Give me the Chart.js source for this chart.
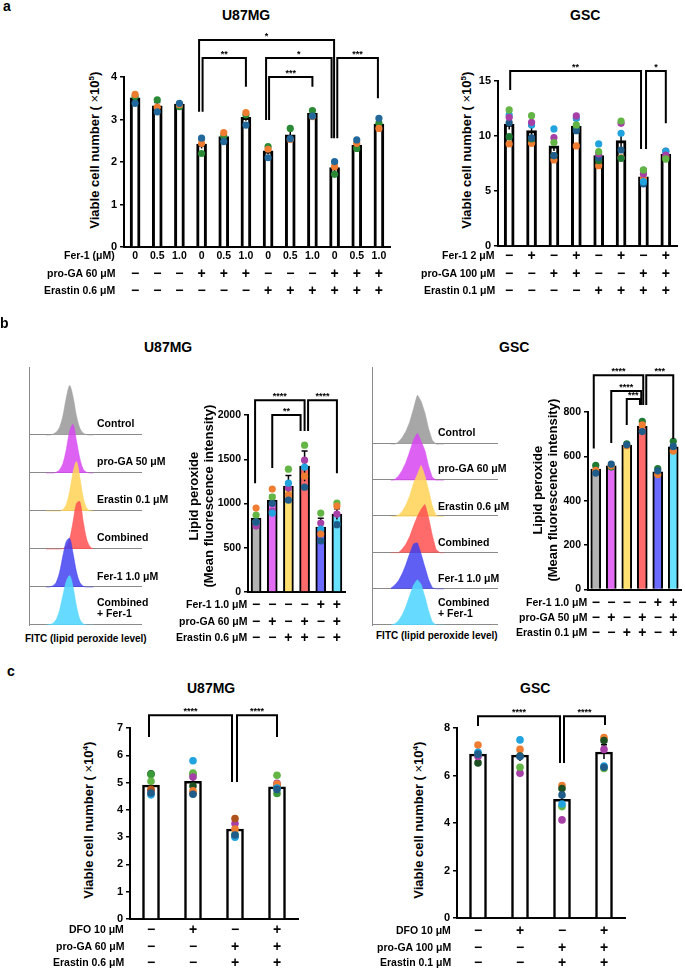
<!DOCTYPE html>
<html><head><meta charset="utf-8">
<script src="https://cdn.jsdelivr.net/npm/chart.js@4.4.1/dist/chart.umd.min.js"></script>
<style>
html,body{margin:0;padding:0;background:#fff;width:685px;height:971px;overflow:hidden}
#root{position:relative;width:685px;height:971px}
canvas{position:absolute}
.t{position:absolute;font-family:"Liberation Sans",Arial,sans-serif;font-weight:bold;color:#000;white-space:nowrap;line-height:1.1}
</style></head><body><div id="root"></div>
<script>
// ---------------- DATA ----------------
// Panel a, U87MG
const aU87Fer1 = ['0','0.5','1.0','0','0.5','1.0','0','0.5','1.0','0','0.5','1.0'];
const aU87ProGA = ['−','−','−','+','+','+','−','−','−','+','+','+'];
const aU87Erastin = ['−','−','−','−','−','−','+','+','+','+','+','+'];
const aU87Mean = [3.51,3.32,3.36,2.42,2.60,3.05,2.26,2.64,3.15,1.87,2.40,2.89];
const aU87Sem = [0.06,0.08,0.02,0.10,0.06,0.08,0.08,0.13,0.07,0.09,0.06,0.07];
const aU87Blue = [3.38,3.18,3.38,2.56,2.48,2.87,2.10,2.55,3.08,2.01,2.52,3.03];
const aU87Orange = [3.59,3.29,3.35,2.44,2.69,3.16,2.30,2.53,3.07,1.89,2.44,2.79];
const aU87Green = [3.54,3.46,3.30,2.20,2.61,3.11,2.36,2.79,3.21,1.71,2.32,2.91];
// Panel a, GSC
const aGscFer1 = ['−','+','−','+','−','+','−','+'];
const aGscProGA = ['−','−','+','+','−','−','+','+'];
const aGscErastin = ['−','−','−','−','+','+','+','+'];
const aGscMean = [11.06,10.45,9.07,10.88,8.19,9.55,6.28,8.34];
const aGscSem = [0.5,0.4,0.45,0.55,0.3,0.65,0.2,0.15];
const aGscLime = [12.33,11.81,9.37,10.97,8.55,11.33,6.89,7.89];
const aGscMagenta = [11.67,11.21,9.82,11.79,8.34,11.12,6.53,8.25];
const aGscLightBlue = [11.88,10.97,10.61,11.58,9.25,10.22,5.83,8.55];
const aGscDarkBlue = [11.18,9.80,8.20,10.45,8.00,8.70,5.62,8.60];
const aGscDarkGreen = [9.91,9.70,8.19,10.67,7.73,7.95,6.89,7.90];
const aGscOrange = [9.25,9.31,7.80,9.07,7.28,8.00,6.07,8.10];

// Panel b, histograms (FITC bins, counts per lane)
const histBins = [15,18,21,24,27,30,33,36,39,42,45,48,51,54,57];
const bU87HistControl = [0,0,0.02,0.07,0.20,0.50,0.98,1.30,1.00,0.50,0.18,0.05,0.01,0,0];
const bU87HistProGA = [0,0,0,0.02,0.08,0.25,0.62,1.10,1.28,0.85,0.38,0.10,0.02,0,0];
const bU87HistErastin = [0,0,0,0,0,0.04,0.17,0.52,1.02,1.30,0.88,0.35,0.08,0.01,0];
const bU87HistCombined = [0,0,0,0,0,0.01,0.07,0.27,0.72,1.20,1.25,0.72,0.26,0.06,0];
const bU87HistFer1 = [0,0,0.03,0.12,0.38,0.82,1.20,1.28,0.88,0.40,0.12,0.02,0,0,0];
const bU87HistCombFer1 = [0,0.01,0.04,0.14,0.38,0.78,1.15,1.30,1.00,0.50,0.15,0.03,0,0,0];
const bGscHistControl = [0,0,0.06,0.18,0.36,0.62,0.98,1.35,1.18,0.86,0.42,0.10,0,0,0];
const bGscHistProGA = [0,0.02,0.12,0.28,0.50,0.80,1.12,1.30,1.08,0.82,0.38,0.08,0,0,0];
const bGscHistErastin = [0,0,0.04,0.14,0.32,0.58,0.92,1.16,1.41,1.12,0.72,0.28,0.02,0,0];
const bGscHistCombined = [0,0,0,0.10,0.24,0.45,0.74,1.00,1.20,1.33,0.95,0.46,0.08,0,0];
const bGscHistFer1 = [0.02,0.10,0.22,0.42,0.68,0.98,1.24,1.27,0.96,0.60,0.25,0.03,0,0,0];
const bGscHistCombFer1 = [0,0.03,0.12,0.28,0.52,0.82,1.10,1.25,1.12,0.78,0.38,0.08,0,0,0];
const bU87HistLabels = ['Control','pro-GA 50 μM','Erastin 0.1 μM','Combined','Fer-1 1.0 μM'];
const bGscHistLabels = ['Control','pro-GA 60 μM','Erastin 0.6 μM','Combined','Fer-1 1.0 μM'];

// Panel b, bar charts
const bU87Fer1 = ['−','−','−','−','+','+'];
const bU87ProGA = ['−','+','−','+','−','+'];
const bU87Erastin = ['−','−','+','+','−','+'];
const bU87Mean = [835,1038,1196,1422,733,880];
const bU87Sem = [45,55,120,170,100,60];
const bU87Lime = [869,1072,1388,1659,892,1005];
const bU87Orange = [948,1163,1095,1309,655,971];
const bU87Magenta = [745,914,1174,1490,779,880];
const bU87LightBlue = [790,892,1230,1411,711,767];
const bU87DarkBlue = [790,1000,1038,1185,576,760];
const bGscFer1 = ['−','−','−','−','+','+'];
const bGscProGA = ['−','+','−','+','−','+'];
const bGscErastin = ['−','−','+','+','−','+'];
const bGscMean = [543,557,651,737,530,643];
const bGscSem = [8,5,4,12,8,10];
const bGscGreen = [560,552,657,758,545,668];
const bGscOrange = [537,557,648,742,518,624];
const bGscBlue = [525,565,652,712,535,645];

// Panel c
const cDFO = ['−','+','−','+'];
const cProGA = ['−','−','+','+'];
const cErastin = ['−','−','+','+'];
const cU87Mean = [4.91,5.05,3.30,4.84];
const cU87Sem = [0.12,0.2,0.12,0.1];
const cU87DarkGreen = [5.32,4.87,3.05,4.85];
const cU87Lime = [5.05,5.35,3.10,5.27];
const cU87Magenta = [4.70,5.20,3.50,4.97];
const cU87Brown = [4.75,4.62,3.68,4.90];
const cU87Orange = [4.60,4.70,3.30,4.95];
const cU87LightBlue = [4.55,5.80,3.00,4.80];
const cU87DarkBlue = [4.62,4.57,3.08,4.75];
const cU87MidGreen = [5.30,5.30,3.05,4.60];
const cGscMean = [6.90,6.86,5.00,6.99];
const cGscSem = [0.12,0.25,0.25,0.3];
const cGscOrange = [7.28,7.10,5.58,7.60];
const cGscLightBlue = [6.98,7.50,4.80,6.40];
const cGscDarkBlue = [6.90,6.80,5.18,6.35];
const cGscLime = [6.93,6.35,4.69,6.30];
const cGscMagenta = [6.80,6.10,4.13,7.10];
const cGscDarkGreen = [6.53,6.82,5.45,7.47];

// ---------------- RENDER ----------------
const FONT = '"Liberation Sans", Arial, sans-serif';
const root = document.getElementById('root');
const C = {blue:'#23689b', orange:'#ef7d31', green:'#2b8a36', lime:'#63b545', magenta:'#a63fa6',
  lightblue:'#20a3df', darkblue:'#1f5c8a', darkgreen:'#1f7a33', brown:'#b0521c', dkgreen2:'#1d4f22', midgreen:'#3a9a3a'};

function txt(html, x, y, size, align, rot, weight) {
  const d = document.createElement('div');
  d.className = 't'; d.innerHTML = html; d.style.fontSize = size + 'px';
  if (weight) d.style.fontWeight = weight;
  root.appendChild(d);
  const w = d.offsetWidth, h = d.offsetHeight;
  if (rot) { d.style.left = (x - w/2) + 'px'; d.style.top = (y - h/2) + 'px'; d.style.transform = 'rotate(-90deg)'; return; }
  const left = align === 'center' ? x - w/2 : align === 'right' ? x - w : x;
  d.style.left = left + 'px'; d.style.top = (y - h/2) + 'px';
}

function mkCanvas(cl, ct, cw, ch) {
  const cv = document.createElement('canvas');
  cv.width = cw; cv.height = ch;
  cv.style.left = cl + 'px'; cv.style.top = ct + 'px';
  cv.style.width = cw + 'px'; cv.style.height = ch + 'px';
  root.appendChild(cv);
  return cv;
}

function makeBar(cfg) {
  const cv = mkCanvas(cfg.cl, cfg.ct, cfg.cw, cfg.ch);
  const yw = 34;
  const datasets = [{type:'bar', data:cfg.mean, backgroundColor:cfg.barColors, borderColor:'#000',
    borderWidth:cfg.bw, barThickness:cfg.bt, order:2}];
  cfg.reps.forEach(r => datasets.push({type:'scatter', data:r[0], backgroundColor:r[1], borderWidth:0,
    pointRadius:cfg.pr, order:1}));
  const deco = {
    id:'deco',
    afterDatasetDraw(chart, args) {
      if (args.index !== 0) return;
      const ctx = chart.ctx, xs = chart.scales.x, ys = chart.scales.y;
      ctx.save(); ctx.strokeStyle = '#000'; ctx.lineWidth = 1.5;
      cfg.mean.forEach((m, i) => {
        const x = xs.getPixelForValue(i);
        const y1 = ys.getPixelForValue(m + cfg.sem[i]), y2 = ys.getPixelForValue(m - cfg.sem[i]);
        ctx.beginPath(); ctx.moveTo(x, y2); ctx.lineTo(x, y1);
        ctx.moveTo(x - cfg.cap, y1); ctx.lineTo(x + cfg.cap, y1); ctx.stroke();
      });
      ctx.restore();
    },
    afterDraw(chart) {
      const ctx = chart.ctx, xs = chart.scales.x, ys = chart.scales.y;
      ctx.save();
      ctx.strokeStyle = '#000'; ctx.lineWidth = cfg.blw || 2; ctx.lineJoin = 'miter';
      cfg.brackets.forEach(b => {
        const xa = xs.getPixelForValue(b.a) + b.da, xb = xs.getPixelForValue(b.b) + b.db;
        const yt = ys.getPixelForValue(b.top), ya = ys.getPixelForValue(b.ea), yb = ys.getPixelForValue(b.eb);
        ctx.beginPath(); ctx.moveTo(xa, ya); ctx.lineTo(xa, yt); ctx.lineTo(xb, yt); ctx.lineTo(xb, yb); ctx.stroke();
        ctx.fillStyle = '#000'; ctx.font = 'bold 9px ' + FONT; ctx.textAlign = 'center'; ctx.textBaseline = 'alphabetic';
        ctx.fillText(b.label, (xa + xb) / 2, yt - 1);
      });
      cfg.rows.forEach(r => {
        ctx.fillStyle = '#000'; ctx.textAlign = 'center'; ctx.textBaseline = 'middle';
        ctx.font = 'bold ' + r.size + 'px ' + FONT;
        r.marks.forEach((m, i) => ctx.fillText(m, xs.getPixelForValue(i), r.y - cfg.ct + 0.5));
      });
      ctx.restore();
    }
  };
  new Chart(cv, {
    type:'bar',
    data:{labels:cfg.mean.map((_, i) => 'g' + i), datasets},
    options:{
      responsive:false, animation:false, devicePixelRatio:1,
      layout:{padding:{left:cfg.plot.l - cfg.cl - yw, right:cfg.cl + cfg.cw - cfg.plot.r,
        top:cfg.plot.t - cfg.ct, bottom:cfg.ct + cfg.ch - cfg.plot.b}},
      plugins:{legend:{display:false}, tooltip:{enabled:false}},
      scales:{
        x:{type:'category', offset:true, grid:{display:true, drawOnChartArea:false, drawTicks:false},
          ticks:{display:false}, border:{color:'#000', width:2}, afterFit:s => { s.height = 0; }},
        y:{min:0, max:cfg.ymax, ticks:{stepSize:cfg.step, color:'#000', padding:3, callback:v => String(v),
            font:{family:FONT, weight:'bold', size:cfg.tfs}},
          grid:{display:true, drawOnChartArea:false, drawTicks:true, tickLength:4, color:'#000', lineWidth:1.5},
          border:{color:'#000', width:2}, afterFit:s => { s.width = yw; }}
      }
    },
    plugins:[deco]
  });
}

function makeHist(cfg) {
  const cv = mkCanvas(cfg.cl, cfg.ct, cfg.cw, cfg.ch);
  const ds = cfg.series.map(s => ({type:'line', data:histBins.map((x, i) => ({x, y:s.base + s.v[i]})),
    fill:{value:s.base}, backgroundColor:s.c, borderColor:s.c, borderWidth:0.6, pointRadius:0,
    tension:cfg.tension, order:s.order}));
  const base = {
    id:'baselines',
    beforeDatasetsDraw(chart) {
      const ctx = chart.ctx, ys = chart.scales.y, a = chart.chartArea;
      ctx.save(); ctx.strokeStyle = '#8a8a8a'; ctx.lineWidth = 1;
      cfg.series.forEach(s => {
        const y = Math.round(ys.getPixelForValue(s.base)) - 0.5;
        ctx.beginPath(); ctx.moveTo(a.left, y); ctx.lineTo(a.right, y); ctx.stroke();
      });
      ctx.restore();
    }
  };
  new Chart(cv, {
    type:'line',
    data:{datasets:ds},
    options:{
      responsive:false, animation:false, devicePixelRatio:1,
      layout:{padding:{left:cfg.plot.l - cfg.cl, right:cfg.cl + cfg.cw - cfg.plot.r,
        top:cfg.plot.t - cfg.ct, bottom:cfg.ct + cfg.ch - cfg.plot.b}},
      plugins:{legend:{display:false}, tooltip:{enabled:false}},
      scales:{
        x:{type:'linear', min:0, max:100, display:false},
        y:{min:0, max:cfg.ymax, ticks:{display:false}, grid:{display:true, drawOnChartArea:false, drawTicks:false},
          border:{color:'#8a8a8a', width:1}, afterFit:s => { s.width = 0; }}
      }
    },
    plugins:[base]
  });
}

// ---- Panel a ----
txt('a', 3, 6, 14, 'left');
txt('U87MG', 246, 15, 14, 'center');
txt('GSC', 585, 15, 14, 'center');
const yTitle5 = 'Viable cell number ( <span style="font-weight:normal">×</span>10<sup style="font-size:8px;line-height:0">5</sup>)';
const yTitle4 = 'Viable cell number ( <span style="font-weight:normal">×</span>10<sup style="font-size:8px;line-height:0">4</sup>)';
txt(yTitle5, 95, 150, 13, 'center', true);
txt(yTitle5, 467, 150, 13, 'center', true);
makeBar({cl:0, ct:25, cw:395, ch:285, plot:{l:124, r:390, t:77, b:247}, ymax:4, step:1, tfs:11,
  mean:aU87Mean, sem:aU87Sem, barColors:'#fff', bw:3, bt:10, pr:3.6, cap:3,
  reps:[[aU87Blue, C.blue], [aU87Orange, C.orange], [aU87Green, C.green]],
  brackets:[
    {a:3, b:9, top:4.87, ea:3.18, eb:2.56, da:-2.5, db:-0.5, label:'*'},
    {a:3, b:5, top:4.45, ea:3.18, eb:3.77, da:1, db:0, label:'**'},
    {a:6, b:9, top:4.45, ea:2.99, eb:2.56, da:-2, db:-3, label:'*'},
    {a:6, b:8, top:4.00, ea:2.99, eb:3.77, da:1, db:0, label:'***'},
    {a:9, b:11, top:4.45, ea:2.56, eb:3.50, da:2.7, db:-1, label:'***'}],
  rows:[{marks:aU87Fer1, y:256, size:10.5}, {marks:aU87ProGA, y:274, size:14}, {marks:aU87Erastin, y:291, size:14}]});
txt('Fer-1 (μM)', 115, 256, 10.5, 'right');
txt('pro-GA 60 μM', 115, 274, 10.5, 'right');
txt('Erastin 0.6 μM', 115, 291, 10.5, 'right');
makeBar({cl:400, ct:25, cw:285, ch:285, plot:{l:498, r:677, t:80.5, b:246}, ymax:15, step:5, tfs:11,
  mean:aGscMean, sem:aGscSem, barColors:'#fff', bw:3, bt:10, pr:3.6, cap:3,
  reps:[[aGscLime, C.lime], [aGscMagenta, C.magenta], [aGscLightBlue, C.lightblue], [aGscDarkBlue, C.darkblue],
        [aGscDarkGreen, C.darkgreen], [aGscOrange, C.orange]],
  brackets:[
    {a:0, b:6, top:15.87, ea:14.14, eb:8.79, da:1, db:-2.4, label:'**'},
    {a:6, b:7, top:15.87, ea:8.79, eb:11.12, da:2.6, db:0, label:'*'}],
  rows:[{marks:aGscFer1, y:256, size:14}, {marks:aGscProGA, y:274, size:14}, {marks:aGscErastin, y:291, size:14}]});
txt('Fer-1 2 μM', 495, 256, 10.5, 'right');
txt('pro-GA 100 μM', 495, 274, 10.5, 'right');
txt('Erastin 0.1 μM', 495, 291, 10.5, 'right');

// ---- Panel b ----
txt('b', 0, 323, 14, 'left');
txt('U87MG', 168, 347, 14, 'center');
txt('GSC', 514, 347, 14, 'center');
const hc = ['rgba(160,160,160,0.92)','rgba(215,70,242,0.85)','rgba(255,212,90,0.88)','rgba(255,80,80,0.85)','rgba(60,60,240,0.82)','rgba(85,215,255,0.9)'];
makeHist({cl:20, ct:360, cw:130, ch:270, plot:{l:29, r:142, t:367, b:625}, ymax:6.79, tension:0.3,
  series:[{v:bU87HistControl, base:5, c:hc[0], order:6}, {v:bU87HistProGA, base:4, c:hc[1], order:5},
          {v:bU87HistErastin, base:3, c:hc[2], order:4}, {v:bU87HistCombined, base:2, c:hc[3], order:3},
          {v:bU87HistFer1, base:1, c:hc[4], order:2}, {v:bU87HistCombFer1, base:0, c:hc[5], order:1}]});
makeHist({cl:365, ct:360, cw:140, ch:270, plot:{l:372, r:498, t:367, b:625}, ymax:7.13, tension:0.1,
  series:[{v:bGscHistControl, base:5, c:hc[0], order:6}, {v:bGscHistProGA, base:4, c:hc[1], order:5},
          {v:bGscHistErastin, base:3, c:hc[2], order:4}, {v:bGscHistCombined, base:2, c:hc[3], order:3},
          {v:bGscHistFer1, base:1, c:hc[4], order:2}, {v:bGscHistCombFer1, base:0, c:hc[5], order:1}]});
[424, 462, 500, 538, 577].forEach((y, i) => txt(bU87HistLabels[i], 97, y, 10.5, 'left'));
txt('Combined', 97, 603, 10.5, 'left'); txt('+ Fer-1', 97, 614, 10.5, 'left');
txt('FITC (lipid peroxide level)', 86, 638, 10, 'center');
[433, 469, 507, 543, 579].forEach((y, i) => txt(bGscHistLabels[i], 438, y, 10.5, 'left'));
txt('Combined', 438, 603, 10.5, 'left'); txt('+ Fer-1', 438, 614, 10.5, 'left');
txt('FITC (lipid peroxide level)', 437, 635, 10, 'center');

const bc = ['#b3b3b3','#e26cf4','#ffe070','#ff6b6b','#6b6bff','#68e0ff'];
txt('Lipid peroxide', 194, 496, 13, 'center', true);
txt('(Mean fluorescence intensity)', 209, 496, 13, 'center', true);
makeBar({cl:150, ct:355, cw:200, ch:295, plot:{l:248, r:345, t:415, b:592}, ymax:2000, step:500, tfs:10.5,
  mean:bU87Mean, sem:bU87Sem, barColors:bc, bw:2, bt:10, pr:3.6, cap:3,
  reps:[[bU87DarkBlue, C.darkblue], [bU87Orange, C.orange], [bU87LightBlue, C.lightblue], [bU87Magenta, C.magenta], [bU87Lime, C.lime]],
  brackets:[
    {a:0, b:3, top:2167, ea:1230, eb:1820, da:-1, db:0, label:'****'},
    {a:1, b:3, top:2000, ea:1400, eb:1820, da:0, db:-4, label:'**'},
    {a:3, b:5, top:2167, ea:1820, eb:1343, da:3.5, db:0, label:'****'}],
  rows:[{marks:bU87Fer1, y:605, size:14}, {marks:bU87ProGA, y:622, size:14}, {marks:bU87Erastin, y:638, size:14}]});
txt('Fer-1 1.0 μM', 247, 605, 10.5, 'right');
txt('pro-GA 60 μM', 247, 622, 10.5, 'right');
txt('Erastin 0.6 μM', 247, 638, 10.5, 'right');

txt('Lipid peroxide', 538, 490, 13, 'center', true);
txt('(Mean fluorescence intensity)', 553, 490, 13, 'center', true);
makeBar({cl:510, ct:355, cw:175, ch:295, plot:{l:588, r:684, t:412, b:589.6}, ymax:800, step:200, tfs:10.5,
  mean:bGscMean, sem:bGscSem, barColors:bc, bw:2, bt:10, pr:3.6, cap:3,
  reps:[[bGscBlue, C.darkblue], [bGscOrange, C.orange], [bGscGreen, C.darkgreen]],
  brackets:[
    {a:0, b:3, top:966, ea:636, eb:831, da:-2, db:1, label:'****'},
    {a:1, b:3, top:895, ea:660, eb:831, da:0, db:-1, label:'****'},
    {a:2, b:3, top:858, ea:741, eb:831, da:0, db:-2.3, label:'***'},
    {a:3, b:5, top:966, ea:831, eb:678, da:4, db:0, label:'***'}],
  rows:[{marks:bGscFer1, y:603, size:14}, {marks:bGscProGA, y:618, size:14}, {marks:bGscErastin, y:633, size:14}]});
txt('Fer-1 1.0 μM', 587, 603, 10.5, 'right');
txt('pro-GA 50 μM', 587, 618, 10.5, 'right');
txt('Erastin 0.1 μM', 587, 633, 10.5, 'right');

// ---- Panel c ----
txt('c', 7, 671, 14, 'left');
txt('U87MG', 211, 688, 14, 'center');
txt('GSC', 535, 688, 14, 'center');
txt(yTitle4, 89, 820, 13, 'center', true);
txt(yTitle4, 419, 820, 13, 'center', true);
makeBar({cl:0, ct:695, cw:340, ch:276, plot:{l:130, r:298, t:728, b:919}, ymax:7, step:1, tfs:11,
  mean:cU87Mean, sem:cU87Sem, barColors:'#fff', bw:2.5, bt:17, pr:3.8, cap:3,
  reps:[[cU87DarkBlue, C.darkblue], [cU87LightBlue, C.lightblue], [cU87Orange, C.orange], [cU87Brown, C.brown],
        [cU87Magenta, C.magenta], [cU87Lime, C.lime], [cU87MidGreen, C.midgreen], [cU87DarkGreen, C.dkgreen2]],
  brackets:[
    {a:0, b:2, top:7.47, ea:6.67, eb:5.02, da:-2, db:-3, label:'****'},
    {a:2, b:3, top:7.47, ea:5.02, eb:6.67, da:2, db:0, label:'****'}],
  rows:[{marks:cDFO, y:930, size:14}, {marks:cProGA, y:947, size:14}, {marks:cErastin, y:963, size:14}]});
txt('DFO 10 μM', 124, 930, 10.5, 'right');
txt('pro-GA 60 μM', 124, 947, 10.5, 'right');
txt('Erastin 0.6 μM', 124, 963, 10.5, 'right');
makeBar({cl:340, ct:695, cw:345, ch:276, plot:{l:457, r:625, t:728, b:918}, ymax:8, step:2, tfs:11,
  mean:cGscMean, sem:cGscSem, barColors:'#fff', bw:2.5, bt:17, pr:3.8, cap:3,
  reps:[[cGscDarkBlue, C.darkblue], [cGscLightBlue, C.lightblue], [cGscLime, C.lime], [cGscMagenta, C.magenta],
        [cGscDarkGreen, C.dkgreen2], [cGscOrange, C.orange]],
  brackets:[
    {a:0, b:2, top:8.5, ea:8.08, eb:6.53, da:0, db:-2, label:'****'},
    {a:2, b:3, top:8.5, ea:6.53, eb:8.13, da:2, db:1, label:'****'}],
  rows:[{marks:cDFO, y:931, size:14}, {marks:cProGA, y:948, size:14}, {marks:cErastin, y:963, size:14}]});
txt('DFO 10 μM', 451, 931, 10.5, 'right');
txt('pro-GA 100 μM', 451, 948, 10.5, 'right');
txt('Erastin 0.1 μM', 451, 963, 10.5, 'right');
</script></body></html>
